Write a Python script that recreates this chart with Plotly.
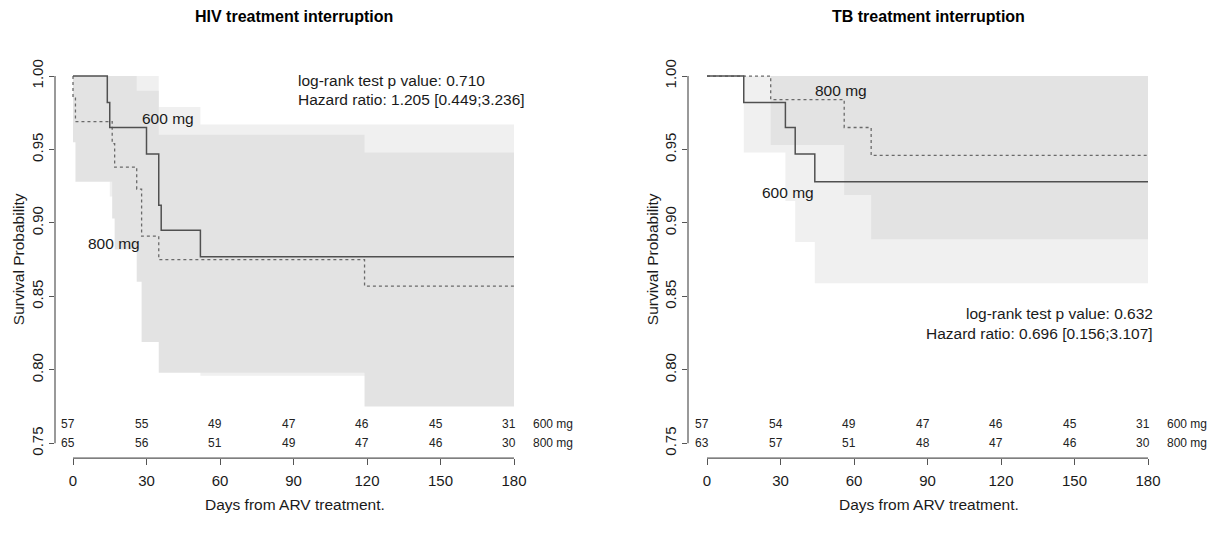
import plotly.graph_objects as go

# ---------------- data ----------------
ticks_days = [0, 30, 60, 90, 120, 150, 180]
y_ticks = [0.75, 0.80, 0.85, 0.90, 0.95, 1.00]
y_ticktext = ["0.75", "0.80", "0.85", "0.90", "0.95", "1.00"]

# HIV panel: Kaplan-Meier step curves
hiv_600_t = [0, 14, 15, 30, 35, 36, 52, 180]
hiv_600_s = [1.0, 0.982, 0.965, 0.947, 0.912, 0.895, 0.877, 0.877]
hiv_800_t = [0, 0, 1, 16, 17, 26, 28, 35, 119, 180]
hiv_800_s = [1.0, 0.985, 0.969, 0.954, 0.938, 0.923, 0.891, 0.875, 0.857, 0.857]
# HIV confidence bands (breakpoints, upper/lower per interval)
hiv_600_band_t = [14, 15, 30, 35, 36, 52, 180]
hiv_600_band_up = [1.0, 1.0, 1.0, 0.979, 0.979, 0.967]
hiv_600_band_lo = [0.950, 0.918, 0.890, 0.840, 0.820, 0.796]
hiv_800_band_t = [0, 1, 16, 17, 26, 28, 35, 119, 180]
hiv_800_band_up = [1.0, 1.0, 1.0, 1.0, 0.990, 0.990, 0.960, 0.948]
hiv_800_band_lo = [0.955, 0.928, 0.903, 0.882, 0.860, 0.819, 0.798, 0.775]

# TB panel
tb_600_t = [0, 15, 32, 36, 44, 180]
tb_600_s = [1.0, 0.982, 0.965, 0.947, 0.928, 0.928]
tb_800_t = [0, 26, 56, 67, 180]
tb_800_s = [1.0, 0.984, 0.965, 0.946, 0.946]
tb_600_band_t = [15, 32, 36, 44, 180]
tb_600_band_up = [1.0, 1.0, 1.0, 1.0]
tb_600_band_lo = [0.948, 0.915, 0.887, 0.859]
tb_800_band_t = [26, 56, 67, 180]
tb_800_band_up = [1.0, 1.0, 1.0]
tb_800_band_lo = [0.953, 0.919, 0.889]

# numbers at risk
hiv_risk_600 = [57, 55, 49, 47, 46, 45, 31]
hiv_risk_800 = [65, 56, 51, 49, 47, 46, 30]
tb_risk_600 = [57, 54, 49, 47, 46, 45, 31]
tb_risk_800 = [63, 57, 51, 48, 47, 46, 30]
risk_groups = ["600 mg", "800 mg"]

titles = ["HIV treatment interruption", "TB treatment interruption"]
stats = [["log-rank test p value: 0.710", "Hazard ratio: 1.205 [0.449;3.236]"],
         ["log-rank test p value: 0.632", "Hazard ratio: 0.696 [0.156;3.107]"]]

# ---------------- layout geometry ----------------
PAGE_MARGIN = 8           # default body margin of the html page
W, H = 1217 - 2 * PAGE_MARGIN, 537 - 2 * PAGE_MARGIN
FONT = "Liberation Sans, Arial, sans-serif"
LIGHT = "#f0f0f0"
DARK = "#e3e3e3"
TXT = "#1a1a1a"


def px(xp):
    return (xp - PAGE_MARGIN) / W


def py(yp):
    return 1 - (yp - PAGE_MARGIN) / H


def band_poly(t, up, lo):
    xs, ys = [], []
    for i in range(len(up)):
        xs += [t[i], t[i + 1]]
        ys += [up[i], up[i]]
    for i in reversed(range(len(lo))):
        xs += [t[i + 1], t[i]]
        ys += [lo[i], lo[i]]
    xs.append(xs[0])
    ys.append(ys[0])
    return xs, ys


fig = go.Figure()

panels = [
    dict(xa="x", ya="y", t6=hiv_600_t, s6=hiv_600_s, t8=hiv_800_t, s8=hiv_800_s,
         b6=(hiv_600_band_t, hiv_600_band_up, hiv_600_band_lo),
         b8=(hiv_800_band_t, hiv_800_band_up, hiv_800_band_lo),
         r6=hiv_risk_600, r8=hiv_risk_800, off=0,
         lab6=(38.7, 0.9714), lab8=(16.7, 0.886),
         stat_x=91, stat_y=(0.9973, 0.9839), stat_anchor="left"),
    dict(xa="x2", ya="y2", t6=tb_600_t, s6=tb_600_s, t8=tb_800_t, s8=tb_800_s,
         b6=(tb_600_band_t, tb_600_band_up, tb_600_band_lo),
         b8=(tb_800_band_t, tb_800_band_up, tb_800_band_lo),
         r6=tb_risk_600, r8=tb_risk_800, off=634,
         lab6=(33.2, 0.921), lab8=(54.6, 0.990),
         stat_x=182.9, stat_y=(0.8385, 0.8251), stat_anchor="right"),
]

annotations = []
shapes = []
ROW_Y = [0.7634, 0.7500]

for k, p in enumerate(panels):
    xa, ya = p["xa"], p["ya"]
    for (bt, bu, bl), col in [(p["b6"], LIGHT), (p["b8"], DARK)]:
        bx, by = band_poly(bt, bu, bl)
        fig.add_trace(go.Scatter(x=bx, y=by, xaxis=xa, yaxis=ya, mode="lines",
                                 fill="toself", fillcolor=col, line=dict(width=0),
                                 hoverinfo="skip", showlegend=False))
    fig.add_trace(go.Scatter(x=p["t8"], y=p["s8"], xaxis=xa, yaxis=ya, mode="lines",
                             line=dict(color="#6a6a6a", width=1.3, dash="dot", shape="hv"),
                             showlegend=False, name="800 mg"))
    fig.add_trace(go.Scatter(x=p["t6"], y=p["s6"], xaxis=xa, yaxis=ya, mode="lines",
                             line=dict(color="#505050", width=1.5, shape="hv"),
                             showlegend=False, name="600 mg"))

    # curve labels
    for txt, (lx, ly) in [("600 mg", p["lab6"]), ("800 mg", p["lab8"])]:
        annotations.append(dict(x=lx, y=ly, xref=xa, yref=ya, text=txt, showarrow=False,
                                xanchor="center", yanchor="middle",
                                font=dict(family=FONT, size=15.5, color=TXT)))
    # statistics text
    for txt, sy in zip(stats[k], p["stat_y"]):
        annotations.append(dict(x=p["stat_x"], y=sy, xref=xa, yref=ya, text=txt,
                                showarrow=False, xanchor=p["stat_anchor"], yanchor="middle",
                                font=dict(family=FONT, size=15.5, color=TXT)))
    # numbers at risk
    for row, yv in zip([p["r6"], p["r8"]], ROW_Y):
        for t, n in zip(ticks_days, row):
            annotations.append(dict(x=t, y=yv, xref=xa, yref=ya, text=str(n), xshift=-5,
                                    showarrow=False, xanchor="center", yanchor="middle",
                                    font=dict(family=FONT, size=12, color="#222")))
    off = p["off"]
    for txt, yv in zip(risk_groups, ROW_Y):
        annotations.append(dict(x=px(531 + off), y=yv, xref="paper", yref=ya, text=txt,
                                xanchor="left", yanchor="middle", showarrow=False,
                                font=dict(family=FONT, size=12, color="#222")))
    annotations.append(dict(x=px(294 + off), y=py(8), xref="paper", yref="paper",
                            text="<b>" + titles[k] + "</b>", showarrow=False,
                            xanchor="center", yanchor="middle",
                            font=dict(family=FONT, size=16, color="#000")))
    annotations.append(dict(x=px(295 + off), y=py(504), xref="paper", yref="paper",
                            text="Days from ARV treatment.", showarrow=False,
                            xanchor="center", yanchor="middle",
                            font=dict(family=FONT, size=15.5, color=TXT)))
    annotations.append(dict(x=px(18 + off), y=py(255), xref="paper", yref="paper",
                            text="Survival Probability", showarrow=False, textangle=-90,
                            xanchor="center", yanchor="middle",
                            font=dict(family=FONT, size=15.5, color=TXT)))
    # axis lines drawn only over the tick span (R style)
    shapes.append(dict(type="line", xref=xa + " domain", yref=ya, x0=0, x1=0,
                       y0=y_ticks[0], y1=y_ticks[-1], line=dict(color="#555", width=1.2)))
    shapes.append(dict(type="line", xref=xa, yref=ya + " domain", x0=ticks_days[0],
                       x1=ticks_days[-1], y0=0, y1=0, line=dict(color="#555", width=1.2)))

k_px = 441 / 180.0
x_axis_common = dict(showgrid=False, zeroline=False, showline=False, ticks="outside",
                     ticklen=6, tickwidth=1.2, tickcolor="#555", tickvals=ticks_days,
                     tickfont=dict(family=FONT, size=15, color=TXT),
                     ticklabelstandoff=3)
y_axis_common = dict(showgrid=False, zeroline=False, showline=False, ticks="outside",
                     ticklen=5, tickwidth=1.2, tickcolor="#555", tickvals=y_ticks,
                     ticktext=y_ticktext, tickangle=-90,
                     tickfont=dict(family=FONT, size=15, color=TXT),
                     range=[0.75 - 15 / 1492, 1 + 9 / 1492], domain=[py(457), py(60)])

fig.update_layout(
    width=W, height=H, autosize=False,
    margin=dict(l=0, r=0, t=0, b=0),
    paper_bgcolor="white", plot_bgcolor="white",
    xaxis=dict(**x_axis_common, domain=[px(55), px(530)],
               range=[(55 - 73) / k_px, (530 - 73) / k_px], anchor="y"),
    yaxis=dict(**y_axis_common, anchor="x"),
    xaxis2=dict(**x_axis_common, domain=[px(688), px(1163)],
                range=[(688 - 707) / k_px, (1163 - 707) / k_px], anchor="y2"),
    yaxis2=dict(**y_axis_common, anchor="x2"),
    annotations=annotations,
    shapes=shapes,
    showlegend=False,
)

fig.write_html("out.html")
